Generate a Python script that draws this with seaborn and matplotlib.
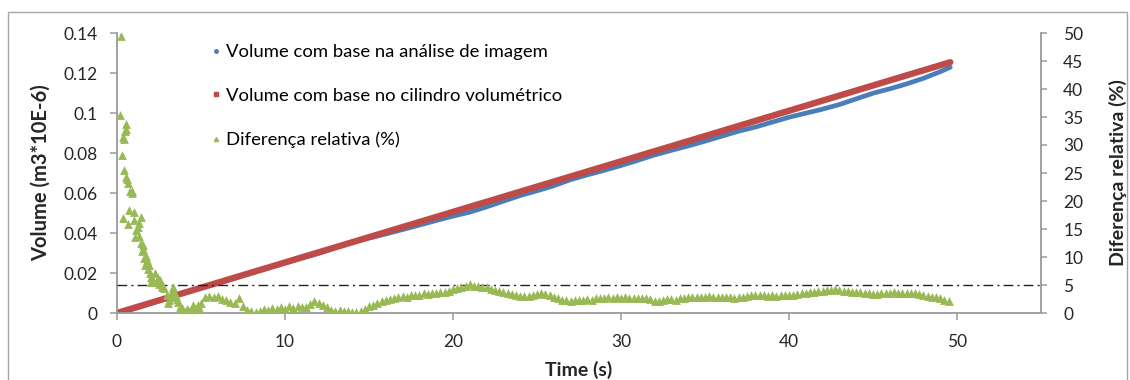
import numpy as np
import pandas as pd
import matplotlib
matplotlib.use("Agg")
import matplotlib.pyplot as plt
from matplotlib.lines import Line2D
from matplotlib.patches import Rectangle
from matplotlib.ticker import FuncFormatter, MultipleLocator
import seaborn as sns

# ---- volumes (m3*10E-6) sampled once per second ----
vol_time = [0, 1, 2, 3, 4, 5, 6, 7, 8, 9, 10, 11, 12, 13, 14, 15, 16, 17, 18, 19,
            20, 21, 22, 23, 24, 25, 26, 27, 28, 29, 30, 31, 32, 33, 34, 35, 36, 37,
            38, 39, 40, 41, 42, 43, 44, 45, 46, 47, 48, 49, 49.6]
vol_cylinder = [0.0, 0.00253, 0.00506, 0.00758, 0.01011, 0.01264, 0.01517, 0.0177,
                0.02022, 0.02275, 0.02528, 0.02781, 0.03034, 0.03286, 0.03539, 0.03792,
                0.04045, 0.04298, 0.0455, 0.04803, 0.05056, 0.05309, 0.05562, 0.05814,
                0.06067, 0.0632, 0.06573, 0.06826, 0.07078, 0.07331, 0.07584, 0.07837,
                0.0809, 0.08342, 0.08595, 0.08848, 0.09101, 0.09354, 0.09606, 0.09859,
                0.10112, 0.10365, 0.10618, 0.1087, 0.11123, 0.11376, 0.11629, 0.11882,
                0.12134, 0.12387, 0.12539]
vol_image = [0.0, 0.0021, 0.00473, 0.00735, 0.01005, 0.01245, 0.01475, 0.01735,
             0.02014, 0.02259, 0.025, 0.0275, 0.0298, 0.0327, 0.03528, 0.03743,
             0.03952, 0.04173, 0.04395, 0.04625, 0.04844, 0.05044, 0.05306, 0.05593,
             0.05873, 0.06111, 0.06363, 0.06669, 0.06908, 0.07133, 0.07375, 0.07633,
             0.07904, 0.08134, 0.08354, 0.08591, 0.08842, 0.09092, 0.09299, 0.09544,
             0.09788, 0.09992, 0.10193, 0.10424, 0.10706, 0.10989, 0.1121, 0.11454,
             0.11734, 0.12065, 0.12288]

# ---- relative difference (%) : scattered start-up readings ----
diff_early_time = [0.24, 0.20, 0.52, 0.55, 0.46, 0.34, 0.44, 0.30, 0.40, 0.54, 0.61,
                   0.64, 0.77, 0.87, 0.91, 0.73, 0.38, 0.99, 1.00, 0.67, 1.43, 1.33,
                   1.23, 1.13, 1.07, 1.31, 1.45, 1.57, 1.57, 1.50, 1.62, 1.71, 1.77,
                   1.67, 1.90, 1.87, 1.95, 2.00, 2.05, 2.10, 2.26, 2.17, 2.36, 2.40,
                   2.46, 2.56, 2.50, 2.66, 2.70, 2.82, 2.96, 3.05, 3.11, 3.20, 3.25,
                   3.30, 3.35, 3.45, 3.50, 3.55, 3.65, 3.75, 3.85, 3.95, 4.05, 4.15,
                   4.25, 4.30, 4.44, 4.54, 4.55, 4.65, 4.74, 4.85, 4.94]
diff_early_pct = [49.5, 35.4, 33.7, 32.9, 32.5, 31.5, 31.1, 28.2, 25.6, 24.3, 24.0,
                  23.2, 21.7, 21.7, 21.5, 18.4, 16.9, 16.6, 18.1, 15.9, 17.2, 16.0,
                  15.4, 14.8, 13.6, 13.8, 12.5, 12.1, 11.4, 11.0, 9.8, 10.2, 9.5,
                  8.6, 8.6, 7.9, 7.2, 6.5, 5.5, 6.0, 7.1, 5.9, 5.9, 5.5,
                  6.2, 5.9, 5.2, 4.7, 5.0, 4.4, 3.2, 1.7, 2.3, 2.8, 3.2,
                  4.0, 4.7, 3.5, 3.0, 2.5, 2.0, 1.1, 0.9, 0.5, 0.2, 0.8,
                  0.5, 0.1, 0.5, 1.4, 0.3, 0.8, 1.1, 1.5, 0.5]

# ---- relative difference (%) : regular readings every 0.25 s from 5 s ----
diff_start, diff_step = 5.0, 0.25
diff_pct = [
    1.8, 2.9, 3.1, 2.8,   3.0, 2.5, 2.3, 2.0,   1.8, 2.6, 1.3, 0.6,   0.3, 0.1, 0.4, 0.8,
    0.5, 0.9, 0.7, 1.0,   0.8, 1.2, 0.9, 1.3,   1.0, 1.1, 1.6, 2.2,   1.8, 1.4, 1.0, 0.6,
    0.4, 0.5, 0.3, 0.4,   0.2, 0.1, 0.4, 0.8,   1.2, 1.5, 1.8, 2.1,   2.3, 2.5, 2.7, 2.8,
    3.0, 2.9, 3.2, 3.3,   3.3, 3.5, 3.4, 3.6,   3.6, 3.8, 3.8, 4.0,   4.2, 4.4, 4.6, 4.9,
    5.1, 4.9, 4.8, 4.7,   4.6, 4.3, 4.1, 3.9,   3.7, 3.5, 3.4, 3.2,   3.1, 3.0, 3.0, 3.2,
    3.4, 3.5, 3.4, 3.3,   2.9, 2.6, 2.4, 2.3,   2.2, 2.3, 2.3, 2.4,   2.5, 2.4, 2.6, 2.7,
    2.7, 2.8, 2.7, 2.8,   2.7, 2.8, 2.6, 2.7,   2.6, 2.7, 2.6, 2.5,   2.2, 2.2, 2.4, 2.5,
    2.5, 2.4, 2.6, 2.7,   2.8, 2.8, 2.9, 2.9,   2.9, 3.0, 2.9, 2.8,   2.9, 2.8, 2.8, 2.7,
    2.8, 2.9, 3.1, 3.2,   3.2, 3.3, 3.2, 3.1,   3.2, 3.1, 3.2, 3.2,   3.2, 3.3, 3.4, 3.5,
    3.6, 3.7, 3.8, 3.9,   4.0, 4.1, 4.1, 4.2,   4.1, 4.0, 3.9, 3.8,   3.7, 3.7, 3.6, 3.5,
    3.4, 3.4, 3.5, 3.6,   3.6, 3.7, 3.6, 3.5,   3.6, 3.5, 3.5, 3.4,   3.3, 3.1, 2.9, 2.8,
    2.6, 2.4, 2.1,
]
reference_pct = 5

labels = ["Volume com base na análise de imagem",
          "Volume com base no cilindro volumétrico",
          "Diferença relativa (%)"]
c_image, c_cyl, c_diff = "#4a7ebb", "#be4b48", "#98b954"

vol_df = pd.DataFrame({"t": vol_time, "image": vol_image, "cyl": vol_cylinder})
late_t = diff_start + diff_step * np.arange(len(diff_pct))
diff_df = pd.DataFrame({"t": np.concatenate([diff_early_time, late_t]),
                        "pct": np.concatenate([diff_early_pct, diff_pct])})

sns.set_theme(style="white")
plt.rcParams["font.family"] = ["Lato", "DejaVu Sans"]
plt.rcParams["text.color"] = "black"

fig = plt.figure(figsize=(11.3, 3.8), dpi=100)
ax = fig.add_axes([117 / 1130, 67 / 380, 924 / 1130, 280 / 380])
ax2 = ax.twinx()

sns.lineplot(data=vol_df, x="t", y="image", ax=ax, color=c_image, lw=3.4,
             estimator=None, sort=False, legend=False, solid_capstyle="round")
sns.lineplot(data=vol_df, x="t", y="cyl", ax=ax, color=c_cyl, lw=4.6,
             estimator=None, sort=False, legend=False, solid_capstyle="round")

ax2.axhline(reference_pct, color="#222222", lw=1.0, dashes=(7, 3, 1.5, 3), zorder=1)
sns.scatterplot(data=diff_df, x="t", y="pct", ax=ax2, color=c_diff, marker="^",
                s=40, linewidth=0, legend=False, zorder=3)

ax.set_xlim(0, 55)
ax.set_ylim(0, 0.14)
ax2.set_ylim(0, 50)
ax.set_xticks([0, 10, 20, 30, 40, 50])
ax.yaxis.set_major_locator(MultipleLocator(0.02))
ax2.yaxis.set_major_locator(MultipleLocator(5))
ax.yaxis.set_major_formatter(FuncFormatter(lambda v, p: f"{v:.2f}".rstrip("0").rstrip(".") if v else "0"))

spine_c = "#9a9a9a"
for a in (ax, ax2):
    for s in a.spines.values():
        s.set_visible(False)
ax.spines["left"].set_visible(True)
ax.spines["bottom"].set_visible(True)
ax2.spines["right"].set_visible(True)
for s in (ax.spines["left"], ax.spines["bottom"], ax2.spines["right"]):
    s.set_color(spine_c)
    s.set_linewidth(1.3)

ax.tick_params(axis="y", direction="out", length=5, width=1.1, color=spine_c,
               labelsize=12.5, pad=9, left=True)
ax.tick_params(axis="x", direction="out", length=5, width=1.1, color=spine_c,
               labelsize=12.5, pad=10, bottom=True)
ax2.tick_params(axis="y", direction="out", length=4, width=1.1, color=spine_c,
                labelsize=12.5, pad=12, right=True)

ax.set_xlabel("Time (s)", fontsize=14, fontweight="bold", labelpad=8)
ax.set_ylabel("Volume (m3*10E-6)", fontsize=14.5, fontweight="bold", labelpad=9)
ax2.set_ylabel("Diferença relativa (%)", fontsize=14, fontweight="bold", labelpad=18)

handles = [Line2D([], [], ls="", marker="o", ms=2.5, color=c_image),
           Line2D([], [], ls="", marker="s", ms=3, color=c_cyl),
           Line2D([], [], ls="", marker="^", ms=3, color=c_diff)]
ax2.legend(handles, labels, loc="upper left", bbox_to_anchor=(0.089, 1.0),
           frameon=False, fontsize=13.3, handlelength=0.6, handletextpad=0.25,
           labelspacing=1.5, borderaxespad=0.2)

fig.patches.append(Rectangle((8 / 1130, -0.1), 1119 / 1130, 1.1 - 12 / 380,
                             transform=fig.transFigure, fill=False,
                             edgecolor="#a6a6a6", lw=1.0))

fig.savefig("out.png", dpi=100)
